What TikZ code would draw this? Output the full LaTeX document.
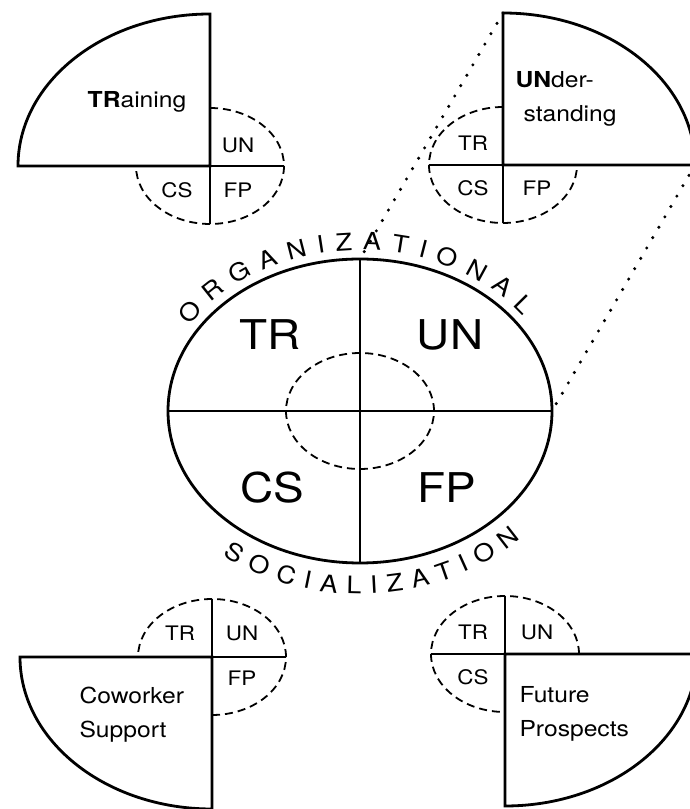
\documentclass[tikz,border=0pt]{standalone}
\usepackage{fontspec}
\setmainfont{TeX Gyre Heros}[FakeStretch=1.12]
\usepackage{tikz}
\usetikzlibrary{decorations.text}

\newcommand{\arcfont}{\fontsize{24}{24}\selectfont}

\tikzset{
  outline/.style={line width=2.8pt},
  cross/.style={line width=1.6pt},
  inner/.style={line width=1.8pt, dash pattern=on 8pt off 5pt},
  link/.style={line width=3.4pt, line cap=round, dash pattern=on 0pt off 12pt},
  biglabel/.style={font=\fontsize{41}{41}\selectfont},
  smalllabel/.style={font=\fontsize{20}{20}\selectfont},
  wordlabel/.style={font=\fontsize{22}{34}\selectfont, align=left, anchor=west},
}

\begin{document}
\begin{tikzpicture}[x=1pt,y=1pt]
  \useasboundingbox (0,0) rectangle (690,809);
  % Define coordinates
  \coordinate (O) at (360,398);
  \coordinate (sTL) at (210,643);
  \coordinate (sTR) at (503,644);
  \coordinate (sBL) at (212,152);
  \coordinate (sBR) at (505,155);
  \coordinate (mainTop) at (360,550);
  \coordinate (mainRight) at (552,398);
  \coordinate (zoomTop) at (503,796);
  \coordinate (zoomRight) at (695,644);

  % central ellipse
  \draw[outline] (O) ellipse [x radius=192, y radius=152];
  \draw[cross] (O) ++(-192,0) -- ++(384,0);
  \draw[cross] (O) ++(0,-152) -- ++(0,304);
  \draw[inner] (O) ++(0,58) arc[start angle=90, end angle=450, x radius=74, y radius=58];
  \node[biglabel] (mainTR) at (270,474) {TR};
  \node[biglabel] (mainUN) at (450,474) {UN};
  \node[biglabel] (mainCS) at (272,321) {CS};
  \node[biglabel] (mainFP) at (447,321) {FP};

  % lettering round the ellipse
  \path[decorate, decoration={text along path, text={|\arcfont|ORGANIZATIONAL}, text align={fit to path}}]
    (O) ++(148:201pt and 161pt) arc[start angle=148, end angle=36, x radius=201, y radius=161];
  \path[decorate, decoration={text along path, text={|\arcfont|SOCIALIZATION}, text align={fit to path}}]
    (O) ++(232:223pt and 183pt) arc[start angle=232, end angle=316, x radius=223, y radius=183];

  % TRaining
  \draw[outline] (sTL) ++(-192,0) arc[start angle=180, end angle=90, x radius=192, y radius=152] -- (sTL) -- cycle;
  \draw[cross] (sTL) ++(-74,0) -- ++(148,0);
  \draw[cross] (sTL) -- ++(0,-58);
  \draw[inner] (sTL) ++(0,58) arc[start angle=90, end angle=-180, x radius=74, y radius=58];
  \node[font=\fontsize{22}{22}\selectfont] (trWord) at (137,707) {\textbf{TR}aining};
  \node[smalllabel] (trUN) at (238,664) {UN};
  \node[smalllabel] (trCS) at (177,619) {CS};
  \node[smalllabel] (trFP) at (238,619) {FP};

  % UNderstanding
  \draw[outline] (sTR) ++(0,152) arc[start angle=90, end angle=0, x radius=192, y radius=152] -- (sTR) -- cycle;
  \draw[cross] (sTR) ++(-74,0) -- (sTR);
  \draw[cross] (sTR) -- ++(0,-58);
  \draw[inner] (sTR) ++(0,58) arc[start angle=90, end angle=360, x radius=74, y radius=58];
  \node[wordlabel] (unWord) at (512,710) {\textbf{UN}der-\\\hspace*{8pt}standing};
  \node[smalllabel] (unTR) at (473,666) {TR};
  \node[smalllabel] (unCS) at (473,621) {CS};
  \node[smalllabel] (unFP) at (537,621) {FP};
  \draw[link] (zoomTop) -- (mainTop);
  \draw[link] (zoomRight) -- (mainRight);

  % Coworker Support
  \draw[outline] (sBL) ++(-192,0) arc[start angle=180, end angle=270, x radius=192, y radius=152] -- (sBL) -- cycle;
  \draw[cross] (sBL) -- ++(74,0);
  \draw[cross] (sBL) -- ++(0,58);
  \draw[inner] (sBL) ++(0,-58) arc[start angle=-90, end angle=180, x radius=74, y radius=58];
  \node[wordlabel] (csWord) at (76,94) {Coworker\\Support};
  \node[smalllabel] (csTR) at (180,176) {TR};
  \node[smalllabel] (csUN) at (242,176) {UN};
  \node[smalllabel] (csFP) at (242,131) {FP};

  % Future Prospects
  \draw[outline] (sBR) ++(192,0) arc[start angle=0, end angle=-90, x radius=192, y radius=152] -- (sBR) -- cycle;
  \draw[cross] (sBR) -- ++(-74,0);
  \draw[cross] (sBR) -- ++(0,58);
  \draw[inner] (sBR) ++(74,0) arc[start angle=0, end angle=270, x radius=74, y radius=58];
  \node[wordlabel] (fpWord) at (516,95) {Future\\Prospects};
  \node[smalllabel] (fpTR) at (473,177) {TR};
  \node[smalllabel] (fpUN) at (537,177) {UN};
  \node[smalllabel] (fpCS) at (473,132) {CS};
\end{tikzpicture}
\end{document}
